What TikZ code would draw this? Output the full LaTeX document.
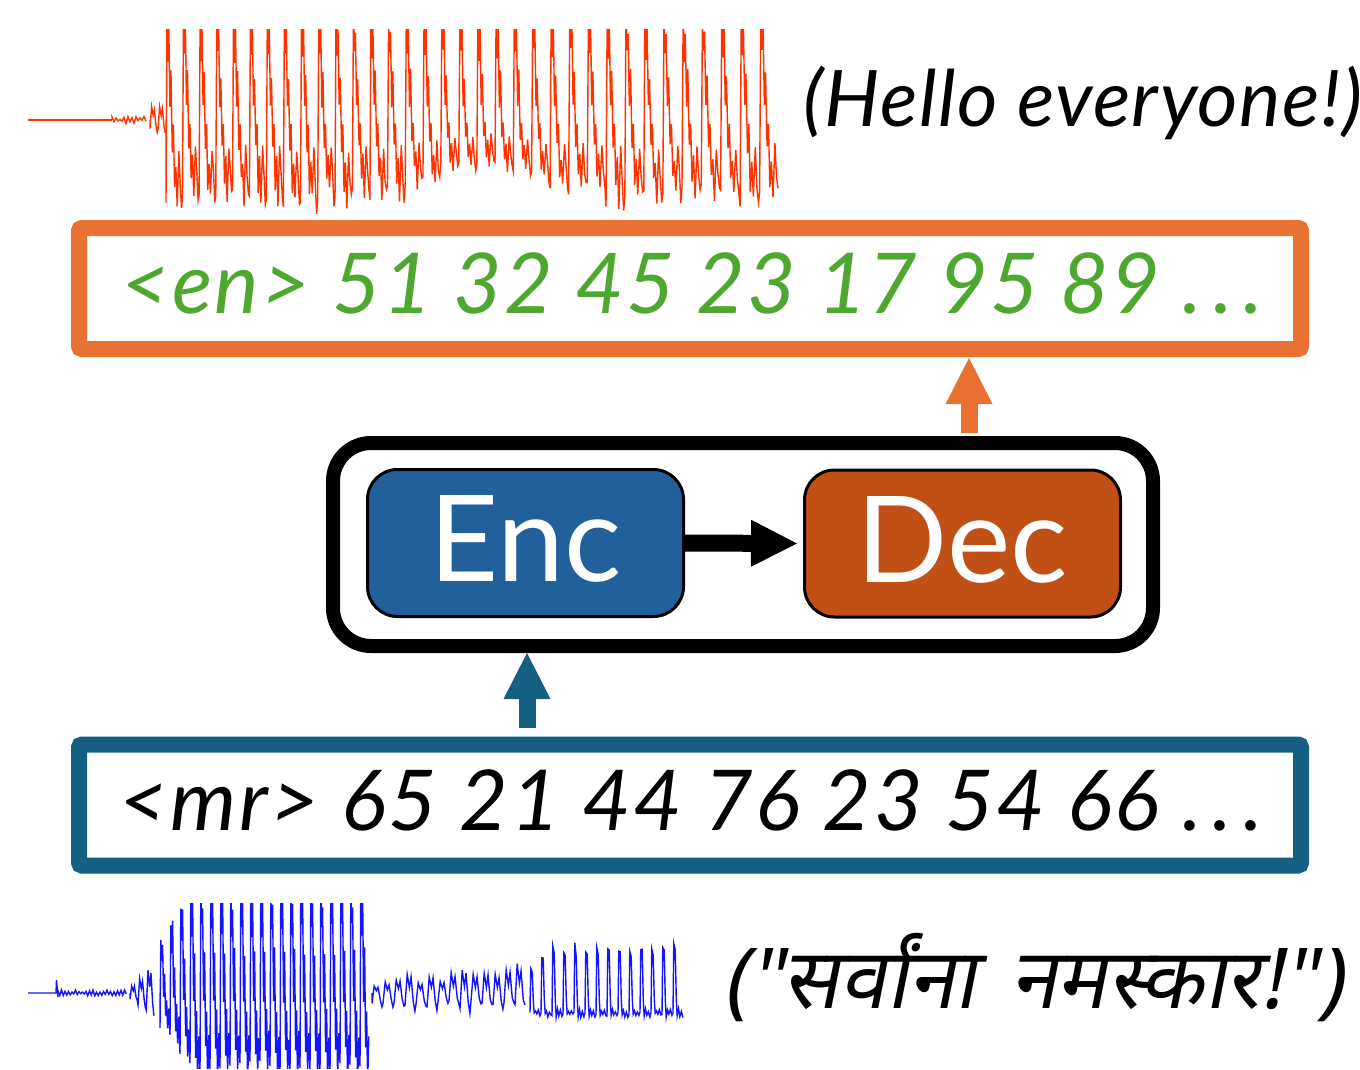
\documentclass[tikz,border=0pt]{standalone}
\usepackage{fontspec}
\setmainfont{Lato}
\newfontfamily\devafont[Script=Devanagari,FakeSlant=0.2]{Noto Sans}
\usetikzlibrary{arrows.meta}

\definecolor{boxorange}{RGB}{233,113,50}
\definecolor{boxteal}{RGB}{21,96,130}
\definecolor{tokgreen}{RGB}{78,167,46}
\definecolor{encblue}{RGB}{34,96,156}
\definecolor{decrust}{RGB}{192,80,22}
\definecolor{wavered}{RGB}{255,51,0}
\definecolor{waveblue}{RGB}{20,20,255}

% one piece of a waveform: start x, end x, period at start, period at end,
% upper amplitude, lower amplitude, centre line, shape of one period
\newcommand\addwave[8]{%
  \xdef\wx{#1}%
  \xdef\wpath{(#1,#7)}%
  \pgfmathtruncatemacro\wn{(#2-#1)/((#3+#4)/2)}%
  \foreach \wk in {1,...,\wn}{%
    \pgfmathsetmacro\wP{#3+(#4-#3)*(\wx-#1)/(#2-#1)}%
    \pgfmathsetmacro\wau{#5}%
    \pgfmathsetmacro\wad{#6}%
    \foreach \wt/\wv in #8{%
      \pgfmathsetmacro\wpx{\wx+\wt*\wP}%
      \pgfmathsetmacro\wpy{#7-\wv*((\wv>0)?\wau:\wad)*(1+0.12*rand)}%
      \xdef\wpath{\wpath -- (\wpx,\wpy)}%
    }%
    \pgfmathsetmacro\wnx{\wx+\wP}%
    \xdef\wx{\wnx}%
  }%
}
\def\patA{0/-0.95,0.06/1.15,0.12/0.7,0.17/1.05,0.24/0.15,0.3/0.5,0.38/-0.35,0.45/-0.05,0.52/-0.8,0.6/-0.5,0.68/-0.98,0.78/-0.35,0.86/-0.7,0.94/-1.0}
\def\patB{0/-0.9,0.08/1.0,0.18/0.6,0.26/0.9,0.36/-0.1,0.46/0.4,0.56/-0.7,0.66/-0.2,0.76/-1.0,0.88/-0.5}
\def\patC{0/-0.8,0.2/0.9,0.4/0.3,0.55/0.8,0.75/-0.5,0.9/-1.0}
\def\patD{0/-0.9,0.07/1.0,0.2/0.9,0.3/-0.2,0.38/-0.95,0.5/-0.7,0.62/-1.0,0.76/-0.75,0.9/-1.0}
\def\patN{0/0.6,0.5/-0.6}

\tikzset{
  wave/.style={line width=1.4pt, line join=miter},
  tokbox/.style={draw, line width=16pt, rounded corners=3pt, minimum width=1222pt,
    minimum height=121pt, inner sep=0pt},
  tokfont/.style={font=\fontsize{84}{84}\selectfont\itshape\addfontfeature{LetterSpace=#1}},
  block/.style={draw=black, line width=3pt, rounded corners=30pt, minimum width=316pt,
    minimum height=147pt, inner sep=0pt, text=white, text height=86pt, text depth=9pt,
    font=\fontsize{120}{120}\selectfont},
  flowarrow/.style={line width=17pt, -{Triangle[width=47pt,length=46pt,line width=0pt]}},
}

\begin{document}
\begin{tikzpicture}[x=1pt,y=-1pt, every node/.style={outer sep=0pt}]
\useasboundingbox (0,0) rectangle (1360,1070);

% English speech
\pgfmathsetseed{11}
\begin{scope}
  \clip (0,30) rectangle (800,214);
  \draw[wave, wavered] (28,120) -- (112,120);
  \addwave{112}{150}{4}{4}{3+3*rand}{3+3*rand}{120}{\patN}
  \draw[wave, wavered] \wpath;
  \addwave{150}{166}{8}{8}{14}{12}{120}{\patC}
  \draw[wave, wavered] \wpath;
  \addwave{166}{785}{16.5}{19.8}{92}{80-32*exp(-((\wx-470)/75)^2)+6*rand}{120}{\patA}
  \draw[wave, wavered] \wpath;
\end{scope}
\node[anchor=base west, font=\fontsize{78}{78}\selectfont\itshape\addfontfeature{LetterSpace=1.8}]
  (entrans) at (800,127) {(Hello everyone!)};

% Marathi speech
\begin{scope}
  \clip (0,903) rectangle (692,1068);
  \draw[wave, waveblue] (28,993) -- (56,993) -- (56.5,980) -- (58,997);
  \addwave{58}{130}{3.5}{3.5}{3+2*rand}{3+2*rand}{993}{\patN}
  \draw[wave, waveblue] \wpath;
  \addwave{130}{160}{8}{9}{8+(\wx-130)*0.9}{8+(\wx-130)*0.8}{993}{\patC}
  \draw[wave, waveblue] \wpath;
  \addwave{160}{370}{10}{10}{min(105,50+(\wx-160)*2.2)}{min(85,35+(\wx-160)*1.6)}{993}{\patB}
  \draw[wave, waveblue] \wpath;
  \addwave{372}{530}{11}{11}{12+(\wx-372)*0.08+7*rand}{14+6*rand}{993}{\patC}
  \draw[wave, waveblue] \wpath;
  \addwave{530}{692}{11}{11}{min(48,25+(\wx-530)*1.2)}{20}{996}{\patD}
  \draw[wave, waveblue] \wpath;
\end{scope}
\node[anchor=base west, font=\devafont\fontsize{84}{84}\selectfont]
  (mrtrans) at (720,1008) {("सर्वांना\hspace{12pt} नमस्कार!")};

% token sequences
\node[tokbox, draw=boxorange] (enbox) at (690,288.5) {};
\node[tokfont=2.6, text=tokgreen, anchor=base] (entok) at (692.5,313)
  {<en> 51 32 45 23 17 95 89 .\kern11pt.\kern11pt.};
\node[tokbox, draw=boxteal] (mrbox) at (690,805) {};
\node[tokfont=3.1, anchor=base] (mrtok) at (691,830)
  {<mr> 65 21 44 76 23 54 66 .\kern11pt.\kern11pt.};

% speech-to-speech model
\node[draw=black, line width=14pt, rounded corners=38pt, minimum width=820pt,
  minimum height=203pt] (model) at (743,544.5) {};
\node[block, fill=encblue] (enc) at (525.5,543) {Enc};
\node[block, fill=decrust] (dec) at (962.5,543.5) {Dec};

% connections
\draw[flowarrow, shorten <=1.5pt, shorten >=7.5pt] (enc.east) -- (dec.west);
\draw[flowarrow, boxteal, shorten <=17pt, shorten >=7pt]
  ([xshift=1.5pt]enc.south |- mrbox.north) -- ([xshift=1.5pt]enc.south |- model.south);
\draw[flowarrow, boxorange, shorten <=10pt, shorten >=9pt]
  ([xshift=6.5pt]dec.north |- model.north) -- ([xshift=6.5pt]dec.north |- enbox.south);
\end{tikzpicture}
\end{document}
